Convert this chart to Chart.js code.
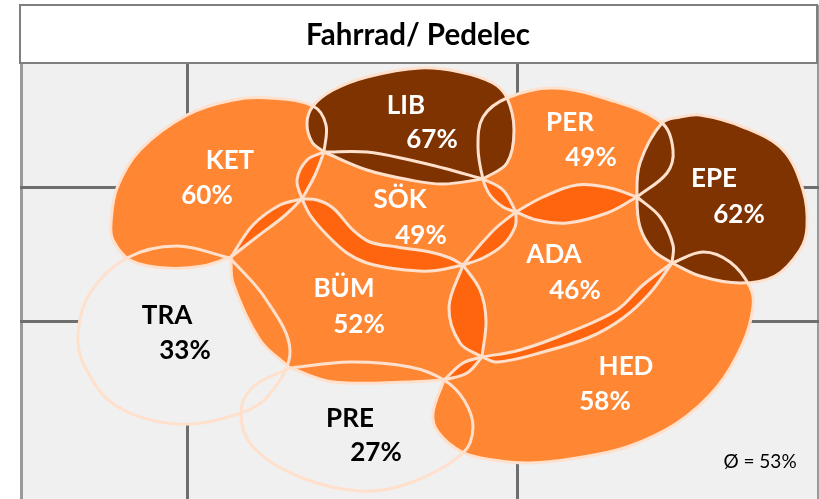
<!DOCTYPE html>
<html>
<head>
<meta charset="utf-8">
<style>html,body{margin:0;padding:0;background:#fff}canvas{display:block}</style>
<script src="https://cdn.jsdelivr.net/npm/chart.js@4"></script>
</head>
<body>
<canvas id="c" width="819" height="499"></canvas>
<script>
const chartTitle = 'Fahrrad/ Pedelec';
const averageLabel = 'Ø = 53%';
const regions  = ['TRA','PRE','KET','SÖK','BÜM','ADA','PER','HED','LIB','EPE'];
const percents = [33,27,60,49,52,46,49,58,67,62];
const nameAt = [[167,316],[350,419],[230,161],[400,200],[344,289],[554,255],[570,123],[626,367],[406,106],[714,179]];
const pctAt  = [[185,351],[376,453],[207,196],[421,236],[359,325],[575,291],[591,158],[605,402],[432,140],[739,215]];
const gridX = [21,187,517,818];
const gridY = [187,321];

// outlines; a repeated point is a corner
const TRA = [[230,258],[230,258],[265,298],[290,350],[270,394],[241,413],[177,424],[115,405],[84,365],[78,333],[90,293],[127,258],[177,246],[230,258],[230,258]];
const PRE = [[290,368],[290,368],[350,362],[410,367],[444,380],[464,400],[473,427],[463,453],[410,483],[360,491],[300,477],[253,447],[241,413],[253,387],[290,368],[290,368]];
const KET = [[324,152],[324,152],[315,175],[302,199],[302,199],[283,217],[258,236],[231,257],[231,257],[203,266],[165,268],[130,260],[113,240],[111,223],[117,188],[140,150],[187,115],[233,100],[270,98],[313,106],[326,125],[324,152],[324,152]];
const SOK = [[324,152],[324,152],[367,152],[410,160],[443,168],[483,179],[483,179],[503,190],[516,212],[516,212],[515,227],[503,245],[483,258],[463,265],[463,265],[430,271],[397,269],[367,263],[347,253],[327,235],[310,215],[302,199],[302,199],[297,180],[307,160],[324,152],[324,152]];
const BUM = [[302,199],[302,199],[317,200],[333,208],[353,230],[370,242],[397,247],[430,252],[450,258],[463,265],[463,265],[480,290],[486,320],[482,357],[482,357],[467,373],[444,380],[444,380],[410,382],[333,382],[290,368],[290,368],[260,340],[233,283],[231,257],[231,257],[253,225],[280,205],[302,199],[302,199]];
const ADA = [[516,212],[516,212],[543,197],[577,185],[610,188],[637,197],[637,197],[660,217],[673,245],[672,263],[672,263],[650,293],[623,318],[590,337],[543,352],[498,362],[482,357],[482,357],[460,343],[449,307],[463,265],[463,265],[480,245],[497,227],[516,212],[516,212]];
const PER = [[637,197],[637,197],[607,213],[567,223],[537,220],[516,212],[503,207],[490,195],[483,179],[478,147],[483,117],[507,98],[553,88],[610,100],[662,123],[673,150],[667,173],[637,197],[637,197]];
const HED = [[672,263],[672,263],[703,252],[730,262],[750,287],[753,307],[743,343],[717,387],[677,423],[627,447],[577,458],[530,463],[493,460],[462,452],[438,432],[433,413],[444,380],[444,380],[463,363],[482,357],[482,357],[520,350],[570,332],[617,310],[643,285],[672,263],[672,263]];
const LIB = [[324,152],[324,152],[367,170],[410,180],[443,184],[483,179],[483,179],[507,163],[514,130],[507,98],[493,83],[460,72],[420,68],[367,77],[333,90],[313,106],[307,123],[312,142],[324,152],[324,152]];
const EPE = [[672,263],[672,263],[653,250],[640,227],[637,197],[640,163],[662,123],[680,117],[700,115],[743,127],[783,150],[803,190],[807,227],[800,250],[775,276],[740,283],[700,276],[672,263],[672,263]];

const outlines = [TRA,PRE,KET,SOK,BUM,ADA,PER,HED,LIB,EPE];

const toPts = a => a.map(p => ({x:p[0], y:p[1]}));
const base = {type:'scatter', showLine:true, pointRadius:0, pointHoverRadius:0, tension:0.36, clip:false};
const datasets = [];
outlines.forEach((o,i) => {
  const pct = percents[i];
  if (pct < 40) {
    datasets.push({...base, data:toPts(o), borderWidth:0, paint:'#F0F0F0', order:40});
  } else if (pct < 62) {
    datasets.push({...base, data:toPts(o), borderWidth:0, paint:'#FFF9AA', order:30});
    datasets.push({...base, data:toPts(o), borderWidth:0, paint:'rgba(255,87,0,0.7)', order:20});
  } else {
    datasets.push({...base, data:toPts(o), borderWidth:0, paint:'#7F3300', order:10});
  }
  datasets.push({...base, data:toPts(o), borderWidth:3, borderColor:'#FFE0CC', borderCapStyle:'round', borderJoinStyle:'round', order:1});
});

const blobPaint = {
  id:'blobPaint',
  beforeDatasetDraw(chart,args){
    const ds = chart.data.datasets[args.index];
    if (!ds.paint) return;
    const line = args.meta.dataset, ctx = chart.ctx;
    line.updateControlPoints(chart.chartArea,'x');
    ctx.save();
    ctx.beginPath();
    line.path(ctx);
    ctx.closePath();
    ctx.fillStyle = ds.paint;
    ctx.fill();
    ctx.restore();
  }
};
const panel = {
  id:'panel',
  beforeDraw(chart){
    const ctx = chart.ctx;
    ctx.save();
    ctx.fillStyle = '#F0F0F0';
    ctx.fillRect(21,63,797,436);
    ctx.restore();
  },
  beforeDatasetsDraw(chart){
    const ctx = chart.ctx;
    ctx.save();
    ctx.fillStyle = '#fff';
    ctx.fillRect(0,0,819,5);
    ctx.fillRect(0,0,20,499);
    ctx.fillRect(20,5,797,58);
    ctx.strokeStyle = '#7F7F7F';
    ctx.lineWidth = 2;
    ctx.strokeRect(20,5,797,58);
    ctx.restore();
  }
};
const labels = {
  id:'labels',
  afterDraw(chart){
    const ctx = chart.ctx, sx = chart.scales.x, sy = chart.scales.y;
    ctx.save();
    ctx.textAlign = 'center';
    ctx.textBaseline = 'middle';
    ctx.fillStyle = '#000';
    ctx.font = 'bold 29.5px Lato';
    ctx.fillText(chartTitle, 418, 35);
    ctx.font = 'bold 26px Lato';
    regions.forEach((r,i) => {
      ctx.fillStyle = percents[i] < 40 ? '#000' : '#fff';
      ctx.fillText(r, sx.getPixelForValue(nameAt[i][0]), sy.getPixelForValue(nameAt[i][1]));
      ctx.fillText(percents[i] + '%', sx.getPixelForValue(pctAt[i][0]), sy.getPixelForValue(pctAt[i][1]));
    });
    ctx.fillStyle = '#000';
    ctx.font = '19px Lato';
    ctx.fillText(averageLabel, 760, 462);
    ctx.restore();
  }
};

new Chart(document.getElementById('c'), {
  type:'scatter',
  data:{datasets},
  options:{
    responsive:false,
    animation:false,
    events:[],
    layout:{padding:0},
    plugins:{legend:{display:false}, title:{display:false}, tooltip:{enabled:false}},
    scales:{
      x:{type:'linear', min:0, max:819,
         afterBuildTicks(s){ s.ticks = gridX.map(v => ({value:v})); },
         ticks:{display:false},
         border:{display:false},
         grid:{drawTicks:false, lineWidth:3, color:c => (c.tick && (c.tick.value===21||c.tick.value===818)) ? '#9A9A9A' : '#6E6E6E'}},
      y:{type:'linear', min:0, max:499, reverse:true,
         afterBuildTicks(s){ s.ticks = gridY.map(v => ({value:v})); },
         ticks:{display:false},
         border:{display:false},
         grid:{drawTicks:false, lineWidth:3, color:'#6E6E6E'}}
    }
  },
  plugins:[panel, blobPaint, labels]
});
</script>
</body>
</html>
